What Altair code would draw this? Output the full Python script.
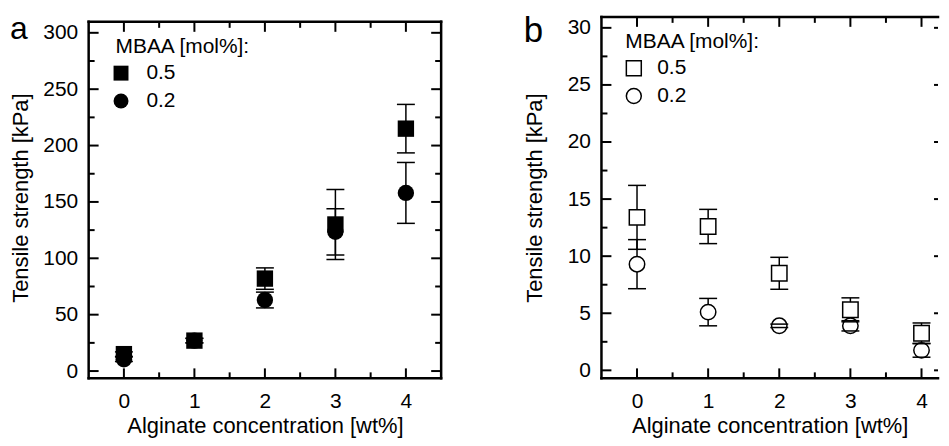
import altair as alt
import pandas as pd

# ---------------- data ----------------
alginate = [0, 1, 2, 3, 4]
series_labels = ["0.5", "0.2"]

# panel a (filled symbols)
a_mbaa05 = [15, 27, 82, 130, 215]
a_mbaa05_err = [2, 2, 9.5, 31, 21.5]
a_mbaa02 = [10.5, 27, 63, 123.5, 158]
a_mbaa02_err = [2, 2, 7, 20.5, 27]

# panel b (open symbols)
b_mbaa05 = [13.4, 12.6, 8.5, 5.3, 3.25]
b_mbaa05_err = [2.8, 1.5, 1.4, 1.05, 0.9]
b_mbaa02 = [9.3, 5.1, 3.9, 3.9, 1.75]
b_mbaa02_err = [2.15, 1.2, 0.15, 0.45, 0.6]

# tick values
x_major = [0, 1, 2, 3, 4]
x_minor = [0.5, 1.5, 2.5, 3.5]
a_y_major = [0, 50, 100, 150, 200, 250, 300]
a_y_minor = [25, 75, 125, 175, 225, 275]
b_y_major = [0, 5, 10, 15, 20, 25, 30]
b_y_minor = [2.5, 7.5, 12.5, 17.5, 22.5, 27.5]

FONT = "Liberation Sans"
MAJ = 10
MIN = 6
H = 363


def make_df(v05, e05, v02, e02):
    rows = []
    for lab, vals, errs in ((series_labels[0], v05, e05), (series_labels[1], v02, e02)):
        for x, y, e in zip(alginate, vals, errs):
            rows.append({"x": x, "y": y, "lo": y - e, "hi": y + e, "series": lab})
    return pd.DataFrame(rows)


def panel(v05, e05, v02, e02, xdom, ydom, ymaj, ymin, W, ftop, right_full, filled,
          letter, lx, ly, lsize, legx, legy, msize, ytp, soff, loff):
    df = make_df(v05, e05, v02, e02)
    xs = alt.Scale(domain=xdom, nice=False, zero=False)
    ys = alt.Scale(domain=ydom, nice=False, zero=False)
    xax = alt.Axis(
        values=x_major, format="d", title="Alginate concentration [wt%]",
        domain=False, ticks=False, tickSize=0, grid=False,
        labelFont=FONT, labelFontSize=21, labelColor="black", labelPadding=12,
        titleFont=FONT, titleFontSize=22, titleFontWeight="normal", titleColor="black",
        titlePadding=4)
    yax = alt.Axis(
        values=ymaj, format="d", title="Tensile strength [kPa]",
        domain=False, ticks=False, tickSize=0, grid=False,
        labelFont=FONT, labelFontSize=21, labelColor="black", labelPadding=11,
        titleFont=FONT, titleFontSize=22, titleFontWeight="normal", titleColor="black",
        titlePadding=ytp)

    def X(f):
        return alt.X(f, scale=xs, axis=xax, title="Alginate concentration [wt%]")

    def Y(f):
        return alt.Y(f, scale=ys, axis=yax, title="Tensile strength [kPa]")

    base = alt.Chart(df)
    layers = []
    layers.append(base.mark_rule(color="black", strokeWidth=1.5).encode(
        x=X("x:Q"), y=Y("lo:Q"), y2="hi:Q"))

    legend = alt.Legend(
        title="MBAA [mol%]:", orient="none", legendX=legx, legendY=legy,
        titleFont=FONT, titleFontSize=21, titleFontWeight="normal", titleColor="black",
        labelFont=FONT, labelFontSize=21, labelColor="black",
        symbolSize=225, symbolStrokeWidth=1 if filled else 1.5, symbolOffset=soff,
        padding=0, rowPadding=6, titlePadding=6, labelOffset=loff,
    )
    shape = alt.Shape("series:N", scale=alt.Scale(domain=series_labels, range=["square", "circle"]),
                      legend=legend)
    if filled:
        layers.append(base.mark_point(filled=True, color="black", opacity=1, size=msize).encode(
            x=X("x:Q"), y=Y("y:Q"), shape=shape))
    else:
        for lab, shp in zip(series_labels, ["square", "circle"]):
            layers.append(base.transform_filter(alt.datum.series == lab).mark_point(
                filled=True, color="white", opacity=1, size=msize, shape=shp).encode(
                x=X("x:Q"), y=Y("y:Q")))
        layers.append(base.mark_point(filled=False, color="black", strokeWidth=1.5, opacity=1,
                                      size=msize).encode(x=X("x:Q"), y=Y("y:Q"), shape=shape))

    for f in ("lo:Q", "hi:Q"):
        layers.append(base.mark_tick(orient="horizontal", size=18, thickness=1.5,
                                     color="black", opacity=1).encode(x=X("x:Q"), y=Y(f)))

    def yt(vals, x1, x2):
        return alt.Chart(pd.DataFrame({"v": vals})).mark_rule(color="black", strokeWidth=2).encode(
            y=Y("v:Q"), x=alt.value(x1), x2=alt.value(x2))

    def xt(vals, y1, y2):
        return alt.Chart(pd.DataFrame({"v": vals})).mark_rule(color="black", strokeWidth=2).encode(
            x=X("v:Q"), y=alt.value(y1), y2=alt.value(y2))

    layers += [yt(ymaj, 0, MAJ), yt(ymin, 0, MIN),
               xt(x_major, H, H - MAJ), xt(x_minor, H, H - MIN),
               xt(x_major, ftop, ftop + MAJ), xt(x_minor, ftop, ftop + MIN)]
    if right_full:
        layers += [yt(ymaj, W, W - MAJ), yt(ymin, W, W - MIN)]
    else:
        layers += [yt(ymaj, W, W - 4)]

    # frame lines
    one = pd.DataFrame({"k": [0]})
    fr = dict(color="black", strokeWidth=2.5, strokeCap="square")
    layers.append(alt.Chart(one).mark_rule(**fr).encode(x=alt.value(0), y=alt.value(ftop), y2=alt.value(H)))
    layers.append(alt.Chart(one).mark_rule(**fr).encode(x=alt.value(0), x2=alt.value(W), y=alt.value(H)))
    layers.append(alt.Chart(one).mark_rule(**fr).encode(x=alt.value(0), x2=alt.value(W), y=alt.value(ftop)))
    if right_full:
        layers.append(alt.Chart(one).mark_rule(**fr).encode(x=alt.value(W), y=alt.value(ftop), y2=alt.value(H)))

    layers.append(alt.Chart(pd.DataFrame({"t": [letter]})).mark_text(
        font=FONT, fontSize=lsize, align="left", baseline="top", color="black"
    ).encode(text="t:N", x=alt.value(lx), y=alt.value(ly)))

    return alt.layer(*layers).properties(width=W, height=H)


pa = panel(a_mbaa05, a_mbaa05_err, a_mbaa02, a_mbaa02_err, [-0.5, 4.5], [-6.46, 314.13],
           a_y_major, a_y_minor, 354, 5, True, True,
           "a", -79, -3, 32, 27, 19, 270, 10, -5, 15)
pb = panel(b_mbaa05, b_mbaa05_err, b_mbaa02, b_mbaa02_err, [-0.5, 4.232], [-0.70, 30.96],
           b_y_major, b_y_minor, 338, 0, False, False,
           "b", -78, -3, 35, 24, 14, 240, 21, -2, 13)

chart = alt.hconcat(pa, pb, spacing=79).resolve_scale(
    x="independent", y="independent", shape="independent"
).resolve_legend(shape="independent").properties(
    padding={"left": 1, "top": 3, "right": 0, "bottom": 0}
).configure_view(stroke="transparent")

chart.save("out.html", embed_options={"renderer": "svg", "actions": False})
